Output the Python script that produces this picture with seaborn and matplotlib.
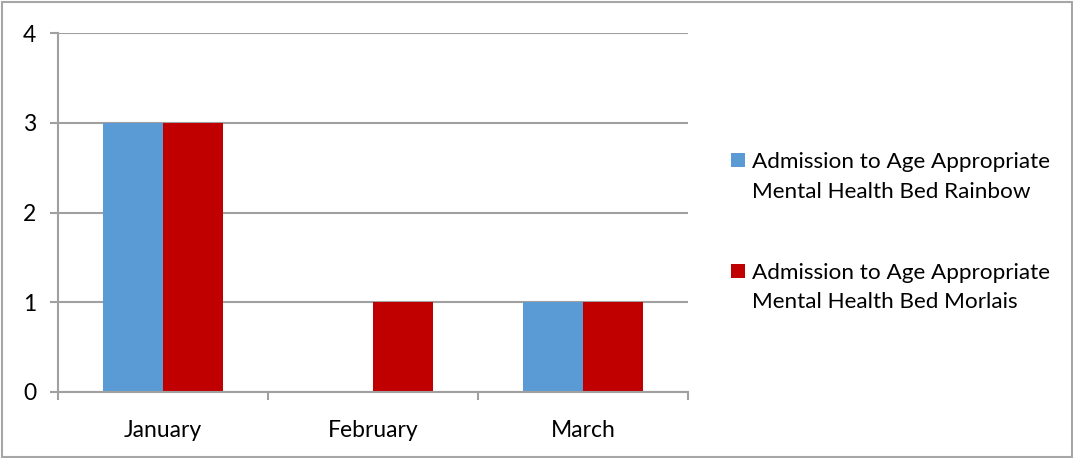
import matplotlib
matplotlib.use("Agg")
import matplotlib.pyplot as plt
from matplotlib.patches import Rectangle
import seaborn as sns
import pandas as pd

months = ["January", "February", "March"]
series_names = ["Admission to Age Appropriate Mental Health Bed Rainbow",
                "Admission to Age Appropriate Mental Health Bed Morlais"]
legend_lines = [["Admission to Age Appropriate", "Mental Health Bed Rainbow"],
                ["Admission to Age Appropriate", "Mental Health Bed Morlais"]]
rainbow = [3, 0, 1]
morlais = [3, 1, 1]
colors = ["#5B9BD5", "#C00000"]
yticks = [0, 1, 2, 3, 4]

df = pd.DataFrame({
    "month": months * 2,
    "value": rainbow + morlais,
    "series": [series_names[0]] * 3 + [series_names[1]] * 3,
})

sns.set_theme(style="white")
plt.rcParams['font.family'] = ['Lato', 'DejaVu Sans']

W, H = 1073, 458
fig = plt.figure(figsize=(W / 100, H / 100), dpi=100)
ax = fig.add_axes([58 / W, (H - 392) / H, (688 - 58) / W, (392 - 33) / H])

sns.barplot(data=df, x="month", y="value", hue="series", order=months,
            hue_order=series_names, palette=colors, width=0.572,
            saturation=1, ax=ax, legend=False, edgecolor="none", linewidth=0)

ax.set_xlim(-0.5, 2.5)
ax.set_ylim(0, 4)
ax.set_yticks(yticks)
ax.set_yticklabels([str(t) for t in yticks])
ax.set_xlabel("")
ax.set_ylabel("")

grid_col = "#A0A0A0"
for t in yticks:
    ax.axhline(t, color=grid_col, lw=1.5, zorder=0.5)

for s in ["top", "right"]:
    ax.spines[s].set_visible(False)
ax.spines["left"].set_color(grid_col)
ax.spines["left"].set_linewidth(1.5)
ax.spines["bottom"].set_color(grid_col)
ax.spines["bottom"].set_linewidth(1.5)

ax.tick_params(axis="y", which="major", length=5.8, width=1.5, color=grid_col,
               labelsize=16.5, pad=10, left=True)
ax.tick_params(axis="x", which="major", length=0, labelsize=16.5, pad=20, bottom=True)
ax.set_xticks([-0.5, 0.5, 1.5, 2.5], minor=True)
ax.tick_params(axis="x", which="minor", length=5.8, width=1.5, color=grid_col, bottom=True)
for lab in ax.get_xticklabels() + ax.get_yticklabels():
    lab.set_color("#000000")

# legend, drawn at figure pixel positions
for i, (c, lines) in enumerate(zip(colors, legend_lines)):
    y0 = 160 + 111 * i
    fig.patches.append(Rectangle((731 / W, 1 - (y0 + 7) / H), 14 / W, 14 / H,
                                 transform=fig.transFigure, facecolor=c,
                                 edgecolor="none"))
    for j, line in enumerate(lines):
        fig.text(752 / W, 1 - (y0 + 2 + 29.5 * j) / H, line, fontsize=16.2,
                 color="#000000", ha="left", va="center")

fig.patches.append(Rectangle((1.5 / W, 1.5 / H), (W - 3) / W, (H - 3) / H,
                             transform=fig.transFigure, fill=False,
                             edgecolor="#A6A6A6", lw=1.5, zorder=10))

fig.savefig("out.png", dpi=100)
